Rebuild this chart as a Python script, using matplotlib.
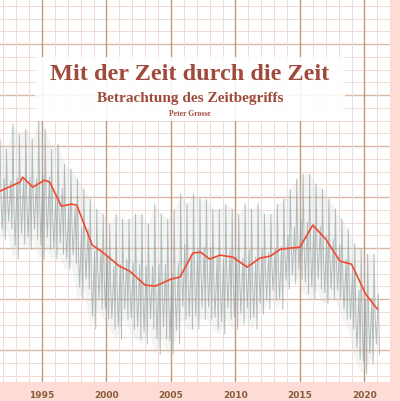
import matplotlib
matplotlib.use("Agg")
import matplotlib.pyplot as plt
import numpy as np

# red smoothed line: (x pixel-derived year, value in grid units)
red_years = [1991.75, 1993.3, 1993.5, 1994.3, 1995.2, 1995.6, 1996.5, 1997.3, 1997.7, 1998.9, 1999.7,
             2001.0, 2001.8, 2003.0, 2003.8, 2005.0, 2005.7, 2006.7, 2007.3, 2008.0, 2008.8, 2009.8,
             2010.9, 2011.9, 2012.7, 2013.5, 2015.0, 2016.0, 2017.0, 2018.1, 2019.0, 2020.1, 2021.0]
red_pix = [192, 183, 178, 188, 181, 183, 207, 205, 206, 246, 253, 267, 272, 286, 287, 280, 278, 254,
           253, 260, 256, 258, 268, 259, 257, 250, 248, 226, 240, 262, 265, 295, 310]
red_vals = [(351 - p) / 12.75 for p in red_pix]

# grey noisy series: half-yearly highs and lows (pixel readings)
grey_start = 1991.75
grey_hi_pix = [140, 150, 125, 135, 130, 140, 120, 130, 150, 145, 165, 170, 180, 190, 200, 210,
               215, 225, 215, 220, 220, 215, 215, 225, 205, 215, 220, 210, 195, 205, 195, 200,
               200, 210, 210, 205, 210, 215, 205, 210, 205, 215, 215, 205, 200, 190, 180, 175,
               175, 185, 190, 200, 210, 220, 230, 245, 250, 255, 255]
grey_lo_pix = [240, 230, 260, 245, 250, 240, 260, 250, 260, 255, 270, 265, 300, 290, 330, 310,
               320, 330, 340, 320, 330, 340, 345, 330, 355, 340, 355, 345, 320, 330, 330, 320,
               320, 330, 335, 320, 330, 325, 320, 330, 315, 310, 300, 310, 290, 285, 280, 295,
               300, 290, 305, 300, 300, 320, 330, 360, 375, 365, 355]
grey_hi = [(351 - p) / 12.75 for p in grey_hi_pix]
grey_lo = [(351 - p) / 12.75 for p in grey_lo_pix]

tick_years = [1995, 2000, 2005, 2010, 2015, 2020]

fig = plt.figure(figsize=(4.0, 4.02), dpi=100)
fig.patch.set_facecolor("#fcdcd5")
ax = fig.add_axes([0, 19/402, 390/400, 383/402])
ax.set_facecolor("white")
ax.set_xlim(1991.75, 1991.75 + 390/12.9)
ax.set_ylim(-2.5, -2.5 + 383/12.75)

for y in np.arange(-2, 28, 1):
    major = (y % 4 == 0)
    ax.axhline(y, color="#dbb8a4" if major else "#efdcd4", lw=1.0 if major else 0.7, zorder=0)
for x in range(1992, 2023):
    major = (x % 5 == 0)
    ax.axvline(x, color="#c4977a" if major else "#efdcd4", lw=1.0 if major else 0.7, zorder=0)

n = len(grey_hi)
t_half = grey_start + 0.5 * np.arange(n)
ax.fill_between(t_half, grey_lo, grey_hi, color="#c5cdcd", alpha=0.2, lw=0, zorder=1)
zx, zy = [], []
for i in range(n):
    zx += [t_half[i], t_half[i] + 0.08, t_half[i] + 0.17, t_half[i] + 0.33, t_half[i] + 0.42]
    zy += [grey_hi[i], (grey_hi[i] * 0.4 + grey_lo[i] * 0.6), grey_lo[i] * 0.9 + grey_hi[i] * 0.1,
           (grey_hi[i] * 0.6 + grey_lo[i] * 0.4), grey_lo[i]]
ax.plot(zx, zy, color="#8f9c9c", lw=0.7, alpha=0.65, zorder=2)
ax.plot(red_years, red_vals, color="#ee4a30", lw=1.2, zorder=3)

ax.set_xticks(tick_years)
ax.set_xticklabels([str(y) for y in tick_years])
ax.tick_params(axis="x", length=0, pad=6, labelsize=6.5, labelcolor="#8a5a3a")
for lab in ax.get_xticklabels():
    lab.set_fontweight("bold")
ax.set_yticks([])
for s in ax.spines.values():
    s.set_visible(False)

fig.patches.append(plt.Rectangle((35/400, 1 - 122/402), 310/400, 64/402, transform=fig.transFigure,
                                 facecolor="white", edgecolor="none", alpha=0.9, zorder=5))
fig.text(190/400, 1 - 75/402, "Mit der Zeit durch die Zeit", ha="center", va="center",
         family="Liberation Serif", weight="bold", fontsize=17.5, color="#a04a3c", zorder=6)
fig.text(190/400, 1 - 99/402, "Betrachtung des Zeitbegriffs", ha="center", va="center",
         family="Liberation Serif", weight="bold", fontsize=11, color="#a04a3c", zorder=6)
fig.text(190/400, 1 - 114/402, "Peter Grosse", ha="center", va="center",
         family="Liberation Serif", weight="bold", fontsize=5.5, color="#a04a3c", zorder=6)

fig.savefig("out.png", dpi=100, facecolor=fig.get_facecolor())
